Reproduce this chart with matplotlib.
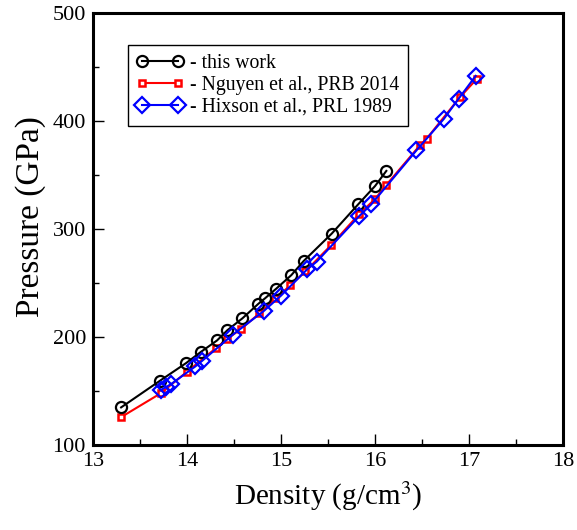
import matplotlib

matplotlib.use("Agg")
import matplotlib.pyplot as plt
from matplotlib.ticker import MultipleLocator

plt.rcParams["font.family"] = ["Liberation Serif", "DejaVu Serif"]
plt.rcParams["mathtext.fontset"] = "stix"

# this work
this_rho = [13.30, 13.71, 13.99, 14.15, 14.32, 14.43, 14.59, 14.76, 14.83, 14.95,
            15.11, 15.24, 15.54, 15.82, 16.00, 16.12]
this_p = [135, 159.5, 176, 186.5, 197, 206.5, 217.5, 231, 236, 245,
          257.5, 270.5, 296, 323, 340, 354]

# Nguyen et al., PRB 2014
nguyen_rho = [13.30, 13.72, 14.00, 14.31, 14.43, 14.58, 14.77, 14.94, 15.10, 15.26,
              15.53, 15.83, 16.00, 16.12, 16.48, 16.55, 16.90, 17.08]
nguyen_p = [126, 148, 168, 190, 198.5, 208, 222, 236, 248, 261,
            285, 314, 328, 341, 378, 384, 422, 439]

# Hixson et al., PRL 1989
hixson_rho = [13.72, 13.78, 13.83, 14.09, 14.16, 14.49, 14.82, 15.00, 15.28, 15.38,
              15.83, 15.96, 16.44, 16.73, 16.89, 17.07]
hixson_p = [151, 154, 156.5, 173, 178, 202.5, 224.5, 238.5, 263, 270,
            312, 323, 373, 402, 421, 442]

fig = plt.figure(figsize=(5.77, 5.30), dpi=100)
ax = fig.add_axes([0.161, 0.160, 0.815, 0.815])

ax.plot(this_rho, this_p, color="black", linewidth=1.5, marker="o", markersize=8,
        markerfacecolor="none", markeredgewidth=1.6, label="- this work", zorder=3)
ax.plot(nguyen_rho, nguyen_p, color="red", linewidth=1.5, marker="s", markersize=5,
        markerfacecolor="white", markeredgewidth=1.8, label="- Nguyen et al., PRB 2014", zorder=2)
ax.plot(hixson_rho, hixson_p, color="blue", linewidth=1.5, marker="D", markersize=8,
        markerfacecolor="none", markeredgewidth=1.6, label="- Hixson et al., PRL 1989", zorder=4)

ax.set_xlim(13, 18)
ax.set_ylim(100, 500)
ax.xaxis.set_major_locator(MultipleLocator(1))
ax.xaxis.set_minor_locator(MultipleLocator(0.5))
ax.yaxis.set_major_locator(MultipleLocator(100))
ax.yaxis.set_minor_locator(MultipleLocator(50))
ax.tick_params(which="both", direction="in", top=False, right=False, labelsize=16, width=1)
ax.tick_params(which="major", length=8, pad=5)
ax.tick_params(which="minor", length=4)
for spine in ax.spines.values():
    spine.set_linewidth(2.2)

ax.set_xlabel("Density (g/cm$^3$)", fontsize=21, labelpad=6)
ax.set_ylabel("Pressure (GPa)", fontsize=24)
ax.yaxis.set_label_coords(-0.10, 0.53)

leg = ax.legend(loc="upper left", bbox_to_anchor=(0.074, 0.926), fontsize=14.2, numpoints=2,
                handlelength=2.4, handletextpad=0.3, borderpad=0.45, labelspacing=0.15,
                borderaxespad=0, fancybox=False, framealpha=1, edgecolor="black")
leg.get_frame().set_linewidth(1.0)

fig.savefig("out.png", dpi=100)
